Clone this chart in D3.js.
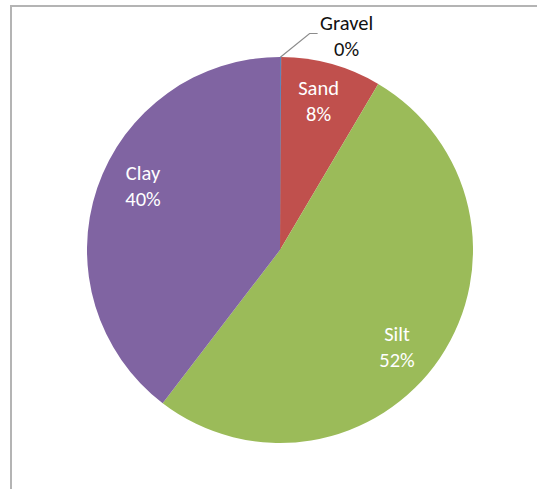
<!DOCTYPE html>
<html>
<head>
<meta charset="utf-8">
<script src="https://cdn.jsdelivr.net/npm/d3@7"></script>
<style>
  body { margin: 0; background: #fff; }
  svg { display: block; }
  .label { font-family: Carlito, Lato, "Noto Sans", sans-serif; font-size: 20.5px; }
</style>
</head>
<body>
<div id="chart"></div>
<script>
// Soil composition (percent)
const categories = ["Gravel", "Sand", "Silt", "Clay"];
const values = [0.1, 8.4, 51.9, 39.6];
const colors = ["#4F81BD", "#C0504D", "#9BBB59", "#8064A2"];

const width = 537, height = 489;
const cx = 280, cy = 250, radius = 193;
const labelRadius = 152;

// small nudges so labels sit where Excel put them
const nudge = {
  Gravel: [66, -24],
  Sand: [-2, -5],
  Silt: [-9, 9],
  Clay: [7, -18],
};

const data = categories.map((c, i) => ({ name: c, value: values[i], color: colors[i] }));

const svg = d3.select("#chart")
  .append("svg")
  .attr("width", width)
  .attr("height", height);

// chart area border
svg.append("rect")
  .attr("x", 11)
  .attr("y", 6)
  .attr("width", width)
  .attr("height", height)
  .attr("fill", "none")
  .attr("stroke", "#b4b4b4")
  .attr("stroke-width", 2);

const g = svg.append("g").attr("transform", `translate(${cx},${cy})`);

const pie = d3.pie().sort(null).value(d => d.value);
const arcs = pie(data);

const arc = d3.arc().innerRadius(0).outerRadius(radius);
const labelArc = d3.arc().innerRadius(labelRadius).outerRadius(labelRadius);
const outerArc = d3.arc().innerRadius(radius).outerRadius(radius);

g.selectAll("path.slice")
  .data(arcs)
  .join("path")
  .attr("class", "slice")
  .attr("d", arc)
  .attr("fill", d => d.data.color)
  .attr("stroke", d => d.data.name === "Gravel" ? "#6f86b8" : "none")
  .attr("stroke-width", 0.8);

const total = d3.sum(values);
const pct = d => Math.round(d.data.value / total * 100) + "%";

// inside labels
const inside = arcs.filter(d => d.data.name !== "Gravel");
const lab = g.selectAll("text.inside")
  .data(inside)
  .join("text")
  .attr("class", "label inside")
  .attr("fill", "#fff")
  .attr("text-anchor", "middle")
  .attr("transform", d => {
    const [x, y] = labelArc.centroid(d);
    const [dx, dy] = nudge[d.data.name];
    return `translate(${x + dx},${y + dy})`;
  });
lab.append("tspan").attr("x", 0).attr("dy", "-0.15em").text(d => d.data.name);
lab.append("tspan").attr("x", 0).attr("dy", "1.25em").text(pct);

// Gravel: outside label with leader line
const gravel = arcs.find(d => d.data.name === "Gravel");
const [ex, ey] = outerArc.centroid(gravel);
const [gx, gy] = nudge.Gravel;
const lx = ex + gx, ly = ey + gy;

g.append("polyline")
  .attr("points", [[ex, ey], [ex + 29, ey - 23.5], [ex + 37, ey - 23.5]].map(p => p.join(",")).join(" "))
  .attr("fill", "none")
  .attr("stroke", "#8c8c8c")
  .attr("stroke-width", 1.2);

const gl = g.append("text")
  .attr("class", "label")
  .attr("fill", "#111")
  .attr("text-anchor", "middle")
  .attr("transform", `translate(${lx},${ly})`);
gl.append("tspan").attr("x", 0).attr("dy", "-0.15em").text(gravel.data.name);
gl.append("tspan").attr("x", 0).attr("dy", "1.25em").text(pct(gravel));
</script>
</body>
</html>
